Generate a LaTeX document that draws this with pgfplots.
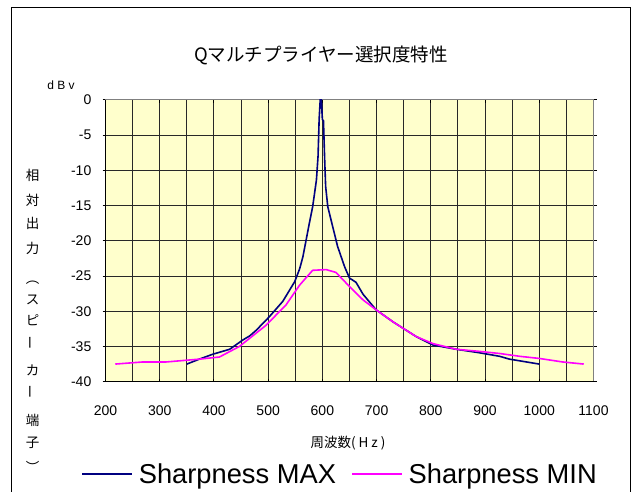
\documentclass[border=0pt]{standalone}
\usepackage{fontspec}
\setmainfont{Liberation Sans}
\newfontfamily\jp{Noto Sans CJK JP}
\usepackage{pgfplots}
\pgfplotsset{compat=1.18}
\definecolor{yellowbg}{RGB}{255,255,204}
\definecolor{navyline}{RGB}{0,0,128}
\definecolor{magline}{RGB}{255,0,255}
\definecolor{gridc}{RGB}{40,40,40}
\definecolor{framec}{RGB}{128,128,128}

\pgfplotstableread{
f db
350 -37.5
373 -36.8
398 -36.1
429 -35.4
453 -34.1
466 -33.5
478 -32.7
502 -30.8
527 -28.6
549 -25.8
558 -24.0
564 -22.3
576 -17.5
582 -15.2
589 -11.4
592 -8.0
594 -2.8
596 0
598 0
600 -2.8
602 -3.0
604 -8.0
606 -12.3
610 -15.2
619 -18.0
628 -20.8
641 -23.7
650 -25.3
662 -25.9
675 -27.6
699 -29.8
730 -31.5
773 -33.6
804 -34.8
847 -35.4
890 -35.9
927 -36.4
945 -36.8
1000 -37.5
}\maxdata

\pgfplotstableread{
f db
218 -37.5
269 -37.2
312 -37.2
373 -36.8
410 -36.5
447 -35.0
496 -32.0
533 -29.1
558 -26.3
582 -24.2
607 -24.1
625 -24.5
650 -26.5
675 -28.4
699 -29.8
730 -31.5
773 -33.6
804 -34.6
847 -35.4
890 -35.7
927 -36.0
964 -36.4
1000 -36.7
1043 -37.2
1082 -37.5
}\mindata

\begin{document}
\begin{tikzpicture}
\useasboundingbox (0pt,0pt) rectangle (633pt,-492pt);
\draw[line width=1pt] (11.7pt,-500pt) -- (11.7pt,-7.3pt) -- (630.7pt,-7.3pt) -- (630.7pt,-500pt);
\begin{axis}[
  scale only axis, width=488pt, height=282pt,
  at={(105.5pt,-381.7pt)}, anchor=south west,
  xmin=200, xmax=1100, ymin=-40, ymax=0,
  xtick={200,300,...,1100}, minor xtick={250,350,...,1050},
  ytick={-40,-35,...,0},
  grid=both,
  major grid style={draw=gridc, line width=0.9pt},
  minor grid style={draw=gridc, line width=0.9pt},
  axis background/.style={fill=yellowbg},
  axis line style={draw=framec, line width=1.2pt},
  major tick length=3pt, minor tick length=0pt,
  tick style={draw=black, line width=0.9pt},
  ytick align=outside, xtick align=inside,
  /pgf/number format/assume math mode=true,
  /pgf/number format/1000 sep={},
  ticklabel style={font=\fontsize{14}{14}\selectfont},
  xticklabel style={anchor=center, inner sep=0pt, yshift=-29pt},
  yticklabel style={anchor=east, inner sep=0pt, xshift=-11pt},
  legend columns=2,
  legend image code/.code={\draw[#1] (0pt,0pt) -- (50pt,0pt);},
  legend style={at={(-0.0492,-0.327)}, anchor=west, draw=none, fill=none,
    inner sep=0pt, font=\fontsize{27.3}{30}\selectfont,
    nodes={inner xsep=5.5pt, inner ysep=0pt},
    /tikz/every even column/.append style={column sep=10pt}},
  after end axis/.code={\draw[black, line width=1.3pt] (rel axis cs:0,1) -- (rel axis cs:0,0) -- (rel axis cs:1,0);},
]
\addplot[navyline, line width=1.6pt] table[x=f, y=db] {\maxdata};
\addlegendentry{Sharpness MAX}
\addplot[magline, line width=1.6pt] table[x=f, y=db] {\mindata};
\addlegendentry{Sharpness MIN}
\end{axis}
\node[font=\jp\fontsize{18.5}{20}\selectfont] at (321pt,-55pt) {Qマルチプライヤー選択度特性};
\node[font=\fontsize{12}{12}\selectfont] at (61pt,-85pt) {d B v};
\node[font=\jp\fontsize{13.5}{14}\selectfont] at (348pt,-442.7pt) {周波数( H z )};
\foreach \c/\y in {相/175,対/200,出/223,力/248,︵/283,ス/300,ピ/320,カ/370,端/420,子/443,︶/467}
  \node[font=\jp\fontsize{13.5}{14}\selectfont] at (32.7pt,-\y pt) {\c};
\node[rotate=90, font=\jp\fontsize{13.5}{14}\selectfont] at (32.7pt,-343pt) {ー};
\node[rotate=90, font=\jp\fontsize{13.5}{14}\selectfont] at (32.7pt,-392pt) {ー};
\end{tikzpicture}
\end{document}
